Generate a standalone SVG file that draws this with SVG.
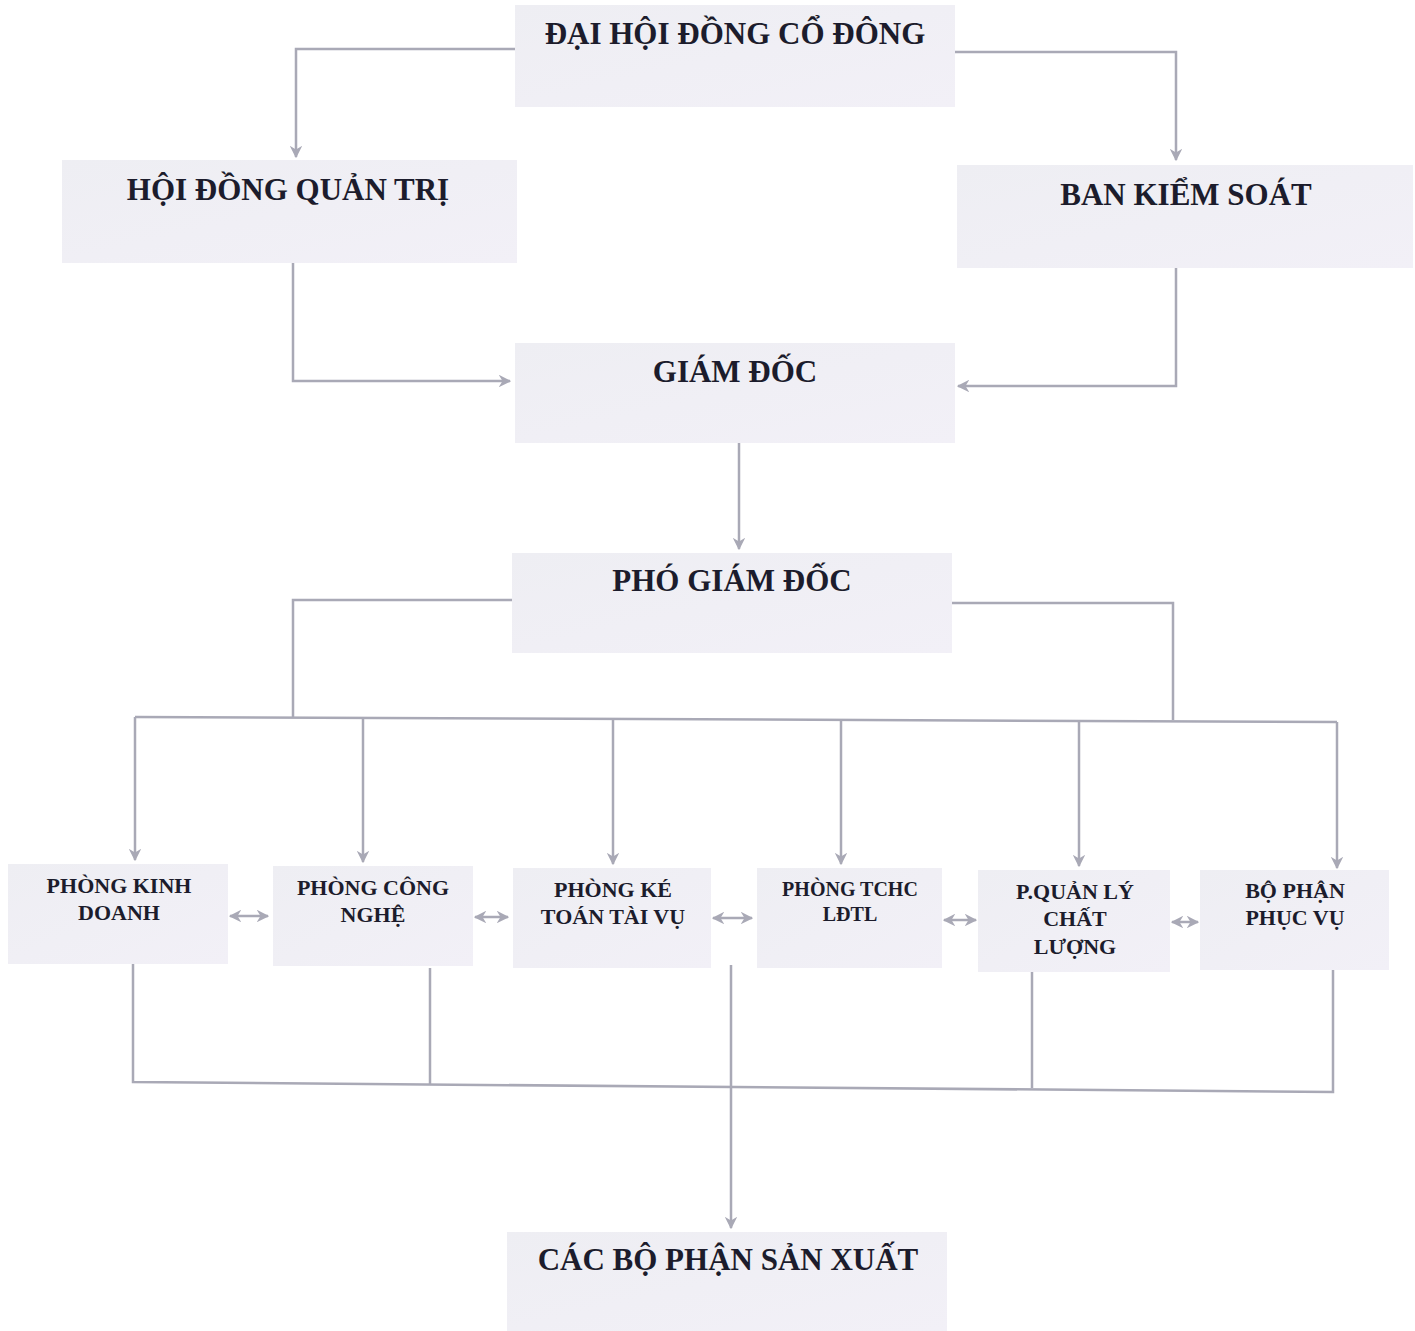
<svg xmlns="http://www.w3.org/2000/svg" width="1415" height="1331" viewBox="0 0 1415 1331">
<style>
.box{fill:url(#g);}
.t{font-family:"Liberation Serif","DejaVu Serif",serif;font-weight:bold;fill:#1c1c2c;text-anchor:middle;}
.big{font-size:31px;}
.sm{font-size:22px;}
.xs{font-size:20px;}
.c{fill:none;stroke:#a9a9b6;stroke-width:2.5;}
</style>
<defs>
<linearGradient id="g" x1="0" y1="0" x2="1" y2="1">
<stop offset="0" stop-color="#eeeef3"/>
<stop offset="1" stop-color="#f2f0f7"/>
</linearGradient>
<marker id="a" viewBox="0 0 10 10" refX="9" refY="5" markerWidth="5" markerHeight="5" orient="auto-start-reverse" markerUnits="strokeWidth">
<path d="M0,0 L10,5 L0,10 L3,5 z" fill="#a9a9b6"/>
</marker>
</defs>
<rect width="1415" height="1331" fill="#ffffff"/>

<g id="n-daihoi"><rect class="box" x="515" y="5" width="440" height="102"/><text class="t big" x="735" y="44">ĐẠI HỘI ĐỒNG CỔ ĐÔNG</text></g>
<g id="n-hdqt"><rect class="box" x="62" y="160" width="455" height="103"/><text class="t big" x="288" y="200">HỘI ĐỒNG QUẢN TRỊ</text></g>
<g id="n-bks"><rect class="box" x="957" y="165" width="456" height="103"/><text class="t big" x="1186" y="205">BAN KIỂM SOÁT</text></g>
<g id="n-gd"><rect class="box" x="515" y="343" width="440" height="100"/><text class="t big" x="735" y="382">GIÁM ĐỐC</text></g>
<g id="n-pgd"><rect class="box" x="512" y="553" width="440" height="100"/><text class="t big" x="732" y="591">PHÓ GIÁM ĐỐC</text></g>

<g id="n-kd"><rect class="box" x="8" y="864" width="220" height="100"/><text class="t sm" x="119" y="893">PHÒNG KINH</text><text class="t sm" x="119" y="920">DOANH</text></g>
<g id="n-cn"><rect class="box" x="273" y="866" width="200" height="100"/><text class="t sm" x="373" y="895">PHÒNG CÔNG</text><text class="t sm" x="373" y="922">NGHỆ</text></g>
<g id="n-kt"><rect class="box" x="513" y="868" width="198" height="100"/><text class="t sm" x="613" y="897">PHÒNG KÉ</text><text class="t sm" x="613" y="924">TOÁN TÀI VỤ</text></g>
<g id="n-tchc"><rect class="box" x="757" y="868" width="185" height="100"/><text class="t xs" x="850" y="896">PHÒNG TCHC</text><text class="t xs" x="850" y="921">LĐTL</text></g>
<g id="n-qlcl"><rect class="box" x="978" y="870" width="192" height="102"/><text class="t sm" x="1075" y="899">P.QUẢN LÝ</text><text class="t sm" x="1075" y="926">CHẤT</text><text class="t sm" x="1075" y="954">LƯỢNG</text></g>
<g id="n-bppv"><rect class="box" x="1200" y="870" width="189" height="100"/><text class="t sm" x="1295" y="898">BỘ PHẬN</text><text class="t sm" x="1295" y="925">PHỤC VỤ</text></g>

<g id="n-sx"><rect class="box" x="507" y="1232" width="440" height="99"/><text class="t big" x="728" y="1270">CÁC BỘ PHẬN SẢN XUẤT</text></g>

<g id="connectors">
<path class="c" d="M515,49 H296 V157" marker-end="url(#a)"/>
<path class="c" d="M955,52 H1176 V160" marker-end="url(#a)"/>
<path class="c" d="M293,263 V381 H510" marker-end="url(#a)"/>
<path class="c" d="M1176,268 V386 H958" marker-end="url(#a)"/>
<path class="c" d="M739,443 V549" marker-end="url(#a)"/>
<path class="c" d="M512,600 H293 V717"/>
<path class="c" d="M952,603 H1173 V720"/>
<path class="c" d="M135,717 L1337,722"/>
<path class="c" d="M135,717 V860" marker-end="url(#a)"/>
<path class="c" d="M363,718 V862" marker-end="url(#a)"/>
<path class="c" d="M613,719 V864" marker-end="url(#a)"/>
<path class="c" d="M841,720 V864" marker-end="url(#a)"/>
<path class="c" d="M1079,721 V866" marker-end="url(#a)"/>
<path class="c" d="M1337,722 V868" marker-end="url(#a)"/>
<path class="c" d="M230,916 H268" marker-start="url(#a)" marker-end="url(#a)"/>
<path class="c" d="M475,917 H508" marker-start="url(#a)" marker-end="url(#a)"/>
<path class="c" d="M713,918 H752" marker-start="url(#a)" marker-end="url(#a)"/>
<path class="c" d="M944,920 H976" marker-start="url(#a)" marker-end="url(#a)"/>
<path class="c" d="M1172,922 H1198" marker-start="url(#a)" marker-end="url(#a)"/>
<path class="c" d="M133,964 V1082 L1333,1092 V970"/>
<path class="c" d="M430,968 V1084"/>
<path class="c" d="M1032,972 V1088"/>
<path class="c" d="M731,965 V1228" marker-end="url(#a)"/>
</g>
</svg>
